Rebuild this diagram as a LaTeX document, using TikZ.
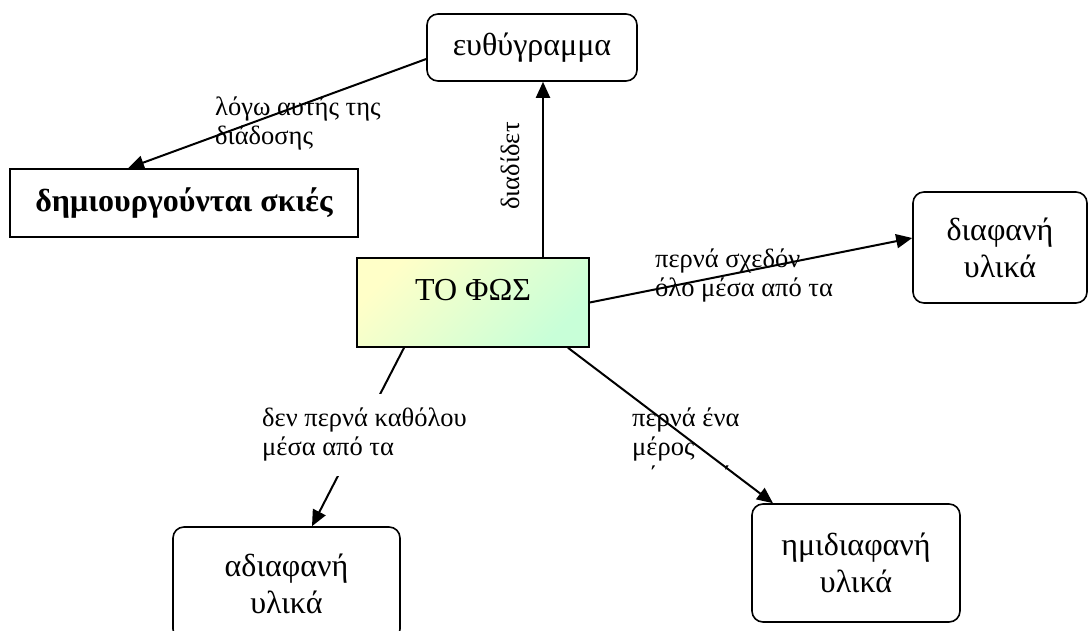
\documentclass[tikz,border=0pt]{standalone}
\usepackage{fontspec}
\setmainfont{Liberation Serif}
\usetikzlibrary{arrows.meta}
\definecolor{lightY}{HTML}{FFFFC8}
\definecolor{lightG}{HTML}{C8FFD8}
\tikzset{
  concept/.style={draw, line width=1.6pt, rounded corners=11pt, align=center,
    font=\fontsize{32}{37}\selectfont, inner sep=0pt},
  plainbox/.style={draw, line width=1.6pt, inner sep=0pt},
  link/.style={line width=2pt, -{Triangle[length=16pt,width=14pt]}},
  lbl/.style={align=left, font=\fontsize{26.5}{29}\selectfont, inner sep=0pt, anchor=north west},
}
\begin{document}
\begin{tikzpicture}[x=1pt,y=-1pt]
\useasboundingbox (0,0) rectangle (1089,631);

% concept boxes
\node[concept, minimum width=210pt, minimum height=67pt] (euth) at (532,47.5) {ευθύγραμμα};
\node[plainbox, minimum width=348pt, minimum height=68pt,
      font=\fontsize{32}{36}\selectfont\bfseries] (skies) at (184,203) {δημιουργούνται σκιές};
\node[plainbox, minimum width=232pt, minimum height=89pt,
      top color=lightY, bottom color=lightG, shading angle=45,
      font=\fontsize{32}{36}\selectfont, text height=22pt, text depth=26pt] (light) at (473,302.5) {ΤΟ ΦΩΣ};
\node[concept, minimum width=174pt, minimum height=111pt] (diaf) at (1000,247.5) {διαφανή\\υλικά};
\node[concept, minimum width=208pt, minimum height=118pt] (hmi) at (856,563) {ημιδιαφανή\\υλικά};
\node[concept, minimum width=227pt, minimum height=113pt] (adiaf) at (286.5,583.5) {αδιαφανή\\υλικά};

% labels under the connectors
\node[lbl] (l1) at (215,97) {λόγω αυτής της\\διάδοσης};
\node[lbl, rotate=90, anchor=center] (l2) at (510,166) {διαδίδετ};
\node[lbl] (l3) at (655,249) {περνά σχεδόν\\όλο μέσα από τα};
\begin{scope}
  \clip (600,395) rectangle (820,469.5);
  \node[lbl] (l4) at (632,408) {περνά ένα\\μέρος\\μέσα από τα};
\end{scope}

% connectors
\draw[link] ([xshift=70pt]light.north) -- ([xshift=11pt]euth.south);
\draw[link] ([yshift=-11.5pt]euth.west) -- ([xshift=-56pt]skies.north);
\draw[link] (light.east) -- ([yshift=9.5pt]diaf.west);
\draw[link] ([xshift=95pt]light.south) -- ([xshift=-83pt]hmi.north);
\draw[link] ([xshift=-69pt]light.south) -- ([xshift=25.5pt]adiaf.north);

% label with white background over its connector
\node[lbl, fill=white, inner xsep=3pt, inner ysep=14pt] (l5) at (259,394) {δεν περνά καθόλου\\μέσα από τα};
\end{tikzpicture}
\end{document}
